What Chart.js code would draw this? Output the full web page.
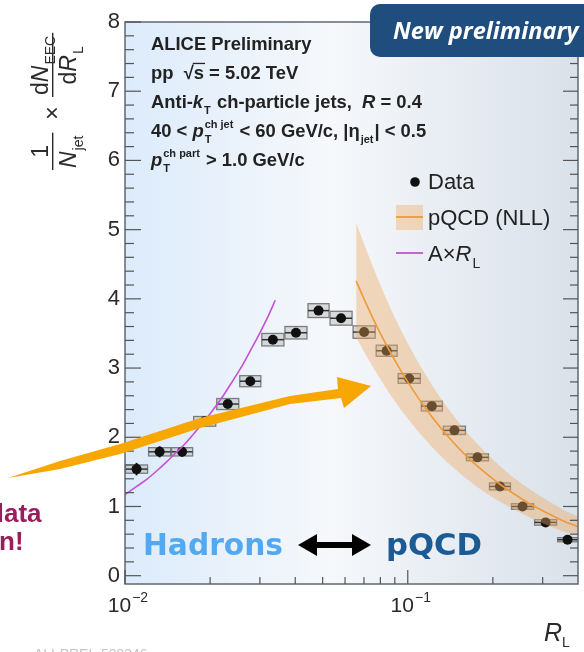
<!DOCTYPE html>
<html>
<head>
<meta charset="utf-8">
<script src="https://cdn.jsdelivr.net/npm/chart.js@4.4.1/dist/chart.umd.min.js"></script>
<style>
  html, body { margin: 0; padding: 0; background: #fff; }
  #wrap { width: 584px; height: 652px; }
</style>
</head>
<body>
<div id="wrap"><canvas id="eec" width="584" height="652"></canvas></div>
<script>
const FONT = '"Liberation Sans", Arial, Helvetica, sans-serif';

// EEC data, 20 log bins in R_L
const binEdges = [0.0100, 0.01207, 0.01456, 0.01742, 0.02102, 0.02536, 0.03035, 0.03663, 0.0442, 0.0529,
  0.0638, 0.0770, 0.0921, 0.1112, 0.1331, 0.1606, 0.1937, 0.2318, 0.2798, 0.3375, 0.4000];
const eecValues = [1.54, 1.79, 1.79, 2.23, 2.48, 2.81, 3.41, 3.51, 3.83, 3.72,
  3.52, 3.25, 2.85, 2.45, 2.10, 1.71, 1.29, 1.00, 0.77, 0.52];
const statErr = [0.09, 0.08, 0.07, 0.05, 0.05, 0.04, 0.03, 0.03, 0.03, 0.02,
  0.02, 0.02, 0.02, 0.02, 0.01, 0.01, 0.01, 0.01, 0.01, 0.01];
const sysErr = [0.06, 0.06, 0.06, 0.07, 0.08, 0.08, 0.09, 0.09, 0.10, 0.10,
  0.09, 0.08, 0.07, 0.07, 0.06, 0.05, 0.05, 0.04, 0.04, 0.03];

// pQCD (NLL) curve with its uncertainty band
const pqcdRL = [0.0657, 0.07, 0.08, 0.09, 0.10, 0.115, 0.13, 0.15, 0.17, 0.20, 0.23, 0.27, 0.32, 0.36, 0.40];
const pqcdCentral = [4.26, 4.00, 3.50, 3.11, 2.80, 2.43, 2.15, 1.86, 1.64, 1.40, 1.22, 1.04, 0.88, 0.78, 0.71];
const pqcdHigh = [5.10, 4.80, 4.20, 3.73, 3.36, 2.92, 2.58, 2.24, 1.97, 1.68, 1.46, 1.25, 1.06, 0.94, 0.86];
const pqcdLow = [3.45, 3.24, 2.84, 2.52, 2.27, 1.97, 1.74, 1.51, 1.33, 1.13, 0.99, 0.84, 0.71, 0.63, 0.58];

// A x R_L (free streaming hadrons)
const linRL = [0.010, 0.011, 0.012, 0.013, 0.014, 0.015, 0.016, 0.018, 0.020, 0.022, 0.024, 0.026, 0.028, 0.030, 0.032, 0.034];
const linValues = [1.17, 1.29, 1.40, 1.52, 1.64, 1.76, 1.87, 2.11, 2.34, 2.57, 2.81, 3.04, 3.28, 3.51, 3.74, 3.98];

const yTicks = [0, 1, 2, 3, 4, 5, 6, 7, 8];
const xLabelValues = [0.01, 0.1];
const xLabelExps = ['\u22122', '\u22121'];
const xMinorValues = [0.02, 0.03, 0.04, 0.05, 0.06, 0.07, 0.08, 0.09, 0.2, 0.3];

const rlCenters = eecValues.map((_, i) => Math.sqrt(binEdges[i] * binEdges[i + 1]));
const pts = (xs, ys) => xs.map((x, i) => ({ x, y: ys[i] }));

// text with italic pieces, sub- and superscripts
function rich(ctx, x, y, parts, size, weight, dry) {
  let cx = x;
  const small = Math.round(size * 0.62);
  for (const p of parts) {
    const s = typeof p === 'string' ? { t: p } : p;
    if (s.t) {
      ctx.font = `${s.it ? 'italic ' : ''}${weight} ${size}px ${FONT}`;
      const w = ctx.measureText(s.t).width;
      if (!dry) {
        ctx.fillText(s.t, cx, y);
        if (s.over) ctx.fillRect(cx - 1, y - size * 0.88, w + 2, Math.max(1, size * 0.07));
      }
      cx += w;
    }
    if (s.sub || s.sup) {
      ctx.font = `${weight} ${small}px ${FONT}`;
      let w = 0;
      if (s.sub) { if (!dry) ctx.fillText(s.sub, cx + 1, y + size * 0.3); w = ctx.measureText(s.sub).width; }
      if (s.sup) { if (!dry) ctx.fillText(s.sup, cx + 1, y - size * 0.48); w = Math.max(w, ctx.measureText(s.sup).width); }
      cx += w + 2;
    }
  }
  return cx - x;
}

function fraction(ctx, u, num, den, size) {
  const wn = rich(ctx, 0, 0, num, size, 'normal', true);
  const wd = rich(ctx, 0, 0, den, size, 'normal', true);
  const w = Math.max(wn, wd) + 4;
  rich(ctx, u + (w - wn) / 2, -5, num, size, 'normal');
  rich(ctx, u + (w - wd) / 2, 23, den, size, 'normal');
  ctx.fillRect(u, -1, w, 1.4);
  return w;
}

function fitFont(ctx, text, style, family, size, width) {
  ctx.font = `${style} ${size}px ${family}`;
  const s = size * width / ctx.measureText(text).width;
  ctx.font = `${style} ${s.toFixed(1)}px ${family}`;
}

function seg(ctx, x0, y0, x1, y1) {
  ctx.beginPath(); ctx.moveTo(x0, y0); ctx.lineTo(x1, y1); ctx.stroke();
}

const slideBackground = {
  id: 'slideBackground',
  beforeDraw(chart) {
    const { ctx, chartArea: a } = chart;
    const g = ctx.createLinearGradient(a.left, 0, a.right, 0);
    g.addColorStop(0, '#dcebfb');
    g.addColorStop(0.45, '#f6f8fb');
    g.addColorStop(1, '#d9e1ea');
    ctx.save();
    ctx.fillStyle = g;
    ctx.fillRect(a.left, a.top, a.right - a.left, a.bottom - a.top);
    ctx.restore();
  }
};

// systematic boxes, bin widths and statistical bars
const errorBoxes = {
  id: 'errorBoxes',
  beforeDatasetsDraw(chart) {
    const { ctx, scales: { x, y } } = chart;
    ctx.save();
    eecValues.forEach((v, i) => {
      const x0 = x.getPixelForValue(binEdges[i]) + 0.5;
      const x1 = x.getPixelForValue(binEdges[i + 1]) - 0.5;
      const xc = x.getPixelForValue(rlCenters[i]);
      const yc = y.getPixelForValue(v);
      const yt = y.getPixelForValue(v + sysErr[i]);
      const yb = y.getPixelForValue(v - sysErr[i]);
      ctx.fillStyle = 'rgba(140,140,140,0.28)';
      ctx.fillRect(x0, yt, x1 - x0, yb - yt);
      ctx.strokeStyle = '#7c7c7c';
      ctx.lineWidth = 1.3;
      ctx.strokeRect(x0, yt, x1 - x0, yb - yt);
      ctx.strokeStyle = '#333';
      ctx.lineWidth = 1.5;
      seg(ctx, x0, yc, x1, yc);
      ctx.strokeStyle = '#111';
      ctx.lineWidth = 2;
      seg(ctx, xc, y.getPixelForValue(v + statErr[i]), xc, y.getPixelForValue(v - statErr[i]));
    });
    ctx.restore();
  }
};

const decorations = {
  id: 'decorations',
  afterDraw(chart) {
    const { ctx, chartArea: a, scales: { x, y } } = chart;
    ctx.save();
    ctx.textAlign = 'left';
    ctx.textBaseline = 'alphabetic';

    // frame and inward ticks
    ctx.strokeStyle = '#5f6870';
    ctx.lineWidth = 1.5;
    ctx.strokeRect(a.left, a.top, a.right - a.left, a.bottom - a.top);
    ctx.strokeStyle = '#555';
    ctx.lineWidth = 1.2;
    for (let v = 0; v <= 8.001; v += 0.2) {
      const py = y.getPixelForValue(v);
      const major = Math.abs(v - Math.round(v)) < 1e-6;
      const len = major ? 16 : 9;
      seg(ctx, a.left, py, a.left + len, py);
      seg(ctx, a.right, py, a.right - len + 1, py);
    }
    xMinorValues.forEach(v => {
      const px = x.getPixelForValue(v);
      seg(ctx, px, a.bottom, px, a.bottom - 7);
    });
    xLabelValues.forEach(v => {
      const px = x.getPixelForValue(v);
      seg(ctx, px, a.bottom, px, a.bottom - 14);
    });

    // x tick labels 10^n
    ctx.fillStyle = '#2a2a2a';
    xLabelValues.forEach((v, i) => {
      const px = x.getPixelForValue(v);
      ctx.font = `21px ${FONT}`;
      const w10 = ctx.measureText('10').width;
      ctx.font = `14px ${FONT}`;
      const we = ctx.measureText(xLabelExps[i]).width;
      const left = px + 3 - (w10 + we + 1) / 2;
      ctx.font = `21px ${FONT}`;
      ctx.fillText('10', left, 612);
      ctx.font = `14px ${FONT}`;
      ctx.fillText(xLabelExps[i], left + w10 + 1, 602);
    });

    // x axis title
    ctx.font = `italic 25px ${FONT}`;
    ctx.fillText('R', 544, 641);
    ctx.font = `14px ${FONT}`;
    ctx.fillText('L', 562, 647);

    // y axis title
    ctx.save();
    ctx.translate(53, 172);
    ctx.rotate(-Math.PI / 2);
    fraction(ctx, 2, ['1'], [{ t: 'N', it: true, sub: 'jet' }], 23);
    ctx.font = `23px ${FONT}`;
    ctx.textAlign = 'center';
    ctx.fillText('\u00d7', 59, 7);
    ctx.textAlign = 'left';
    fraction(ctx, 75, ['d', { t: 'N', it: true, sub: 'EEC' }], ['d', { t: 'R', it: true, sub: 'L' }], 23);
    ctx.restore();

    // info block
    ctx.fillStyle = '#222';
    const infoLines = [
      ['ALICE Preliminary'],
      ['pp  ', '\u221a', { t: 's', over: true }, ' = 5.02 TeV'],
      ['Anti-', { t: 'k', it: true, sub: 'T' }, ' ch-particle jets,  ', { t: 'R', it: true }, ' = 0.4'],
      ['40 < ', { t: 'p', it: true, sub: 'T', sup: 'ch jet' }, ' < 60 GeV/c, |\u03b7', { sub: 'jet' }, '| < 0.5'],
      [{ t: 'p', it: true, sub: 'T', sup: 'ch part' }, ' > 1.0 GeV/c']
    ];
    const infoBase = [50, 79, 108, 137, 166];
    infoLines.forEach((l, i) => rich(ctx, 151, infoBase[i], l, 18.4, 'bold'));

    // legend
    ctx.fillStyle = '#111';
    ctx.beginPath(); ctx.arc(415, 182, 4.8, 0, Math.PI * 2); ctx.fill();
    ctx.fillStyle = 'rgba(238,168,92,0.38)';
    ctx.fillRect(396, 205, 27, 25);
    ctx.strokeStyle = '#ee9a3a'; ctx.lineWidth = 1.8;
    seg(ctx, 396, 217, 423, 217);
    ctx.strokeStyle = '#c552d4';
    seg(ctx, 396, 253, 423, 253);
    ctx.fillStyle = '#222';
    ctx.font = `22px ${FONT}`;
    ctx.fillText('Data', 428, 189);
    ctx.fillText('pQCD (NLL)', 428, 225);
    rich(ctx, 428, 261, ['A\u00d7', { t: 'R', it: true, sub: 'L' }], 22, 'normal');

    // badge
    ctx.fillStyle = '#1f4e7e';
    ctx.beginPath(); ctx.roundRect(370, 4, 240, 53, 10); ctx.fill();
    ctx.fillStyle = '#fff';
    fitFont(ctx, 'New preliminary', 'italic bold', '"Open Sans", sans-serif', 22, 186);
    ctx.fillText('New preliminary', 393, 39);

    // Hadrons <-> pQCD
    ctx.fillStyle = '#52a9f2';
    fitFont(ctx, 'Hadrons', 'bold', '"DejaVu Sans", sans-serif', 30, 140);
    ctx.fillText('Hadrons', 143, 555);
    ctx.fillStyle = '#1b5a94';
    fitFont(ctx, 'pQCD', 'bold', '"DejaVu Sans", sans-serif', 30, 96);
    ctx.fillText('pQCD', 386, 555);
    ctx.fillStyle = '#000';
    ctx.fillRect(312, 542, 44, 6);
    ctx.beginPath(); ctx.moveTo(298, 545); ctx.lineTo(317, 534); ctx.lineTo(317, 556); ctx.closePath(); ctx.fill();
    ctx.beginPath(); ctx.moveTo(371, 545); ctx.lineTo(352, 534); ctx.lineTo(352, 556); ctx.closePath(); ctx.fill();

    // orange arrow
    ctx.fillStyle = '#f7a700';
    ctx.beginPath();
    [[8, 478], [60, 461], [120, 444], [200, 418], [290, 396], [338, 389], [337, 377], [371, 386],
     [344, 408], [341, 398], [290, 404], [200, 428], [120, 454], [60, 469]].forEach(([px, py], i) => {
      if (i === 0) ctx.moveTo(px, py); else ctx.lineTo(px, py);
    });
    ctx.closePath(); ctx.fill();

    // side note, cut by the page edge
    ctx.fillStyle = '#9c1d5b';
    ctx.font = `bold 26px ${FONT}`;
    ctx.fillText('data', 4 - ctx.measureText('d').width, 522);
    ctx.fillText('on!', -1 - ctx.measureText('o').width, 550);

    ctx.fillStyle = '#c4c4c4';
    ctx.font = `14px ${FONT}`;
    ctx.fillText('ALI-PREL-539346', 34, 659);
    ctx.restore();
  }
};

new Chart(document.getElementById('eec'), {
  type: 'scatter',
  data: {
    datasets: [
      { label: 'A\u00d7RL', data: pts(linRL, linValues), showLine: true, borderColor: '#c552d4', borderWidth: 1.6,
        pointRadius: 0, fill: false, cubicInterpolationMode: 'monotone', order: 0 },
      { label: 'pQCD (NLL)', data: pts(pqcdRL, pqcdCentral), showLine: true, borderColor: '#ee9a3a', borderWidth: 1.6,
        pointRadius: 0, fill: false, cubicInterpolationMode: 'monotone', order: 1 },
      { label: 'pQCD low', data: pts(pqcdRL, pqcdLow), showLine: true, borderWidth: 0, borderColor: 'rgba(0,0,0,0)',
        pointRadius: 0, fill: false, cubicInterpolationMode: 'monotone', order: 2 },
      { label: 'pQCD high', data: pts(pqcdRL, pqcdHigh), showLine: true, borderWidth: 0, borderColor: 'rgba(0,0,0,0)',
        pointRadius: 0, fill: '-1', backgroundColor: 'rgba(238,168,92,0.4)', cubicInterpolationMode: 'monotone', order: 2 },
      { label: 'Data', data: pts(rlCenters, eecValues), pointRadius: 5, backgroundColor: '#111', borderWidth: 0, order: 3 }
    ]
  },
  options: {
    responsive: false,
    animation: false,
    events: [],
    layout: { padding: { top: 22, right: 6, left: 0, bottom: 0 } },
    plugins: { legend: { display: false }, tooltip: { enabled: false } },
    scales: {
      x: {
        type: 'logarithmic',
        min: 0.01,
        max: 0.4,
        grid: { display: false, drawTicks: false },
        border: { display: false },
        ticks: { display: false },
        afterFit(scale) { scale.height = 68; }
      },
      y: {
        min: -0.12,
        max: 8,
        grid: { display: false, drawTicks: false },
        border: { display: false },
        ticks: { color: '#2a2a2a', padding: 5, font: { family: FONT, size: 22 } },
        afterBuildTicks(scale) { scale.ticks = yTicks.map(v => ({ value: v })); },
        afterFit(scale) { scale.width = 125; }
      }
    }
  },
  plugins: [slideBackground, errorBoxes, decorations]
});
</script>
</body>
</html>
